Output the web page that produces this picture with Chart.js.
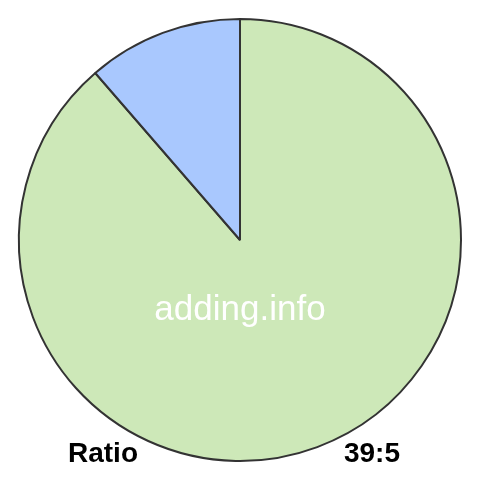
<!DOCTYPE html>
<html><head><meta charset="utf-8">
<script src="https://cdn.jsdelivr.net/npm/chart.js@4"></script>
<style>html,body{margin:0;padding:0;background:#fff;}canvas{display:block;}</style>
</head><body>
<canvas id="c" width="480" height="480"></canvas>
<script>
const labels = ['39', '5'];
const values = [39, 5];
const colors = ['#cde8b8', '#a9c8fe'];
const watermark = 'adding.info';
const leftLabel = 'Ratio';
const rightLabel = '39:5';

const textPlugin = {
  id: 'texts',
  afterDraw(chart) {
    const ctx = chart.ctx;
    ctx.save();
    ctx.fillStyle = '#ffffff';
    ctx.font = '35px "Liberation Sans", Arial, sans-serif';
    ctx.textAlign = 'center';
    ctx.textBaseline = 'middle';
    ctx.fillText(watermark, 240, 310);
    ctx.fillStyle = '#000000';
    ctx.font = 'bold 28px "Liberation Sans", Arial, sans-serif';
    ctx.textBaseline = 'alphabetic';
    ctx.textAlign = 'left';
    ctx.fillText(leftLabel, 68, 462);
    ctx.textAlign = 'right';
    ctx.fillText(rightLabel, 400, 462);
    ctx.restore();
  }
};

new Chart(document.getElementById('c'), {
  type: 'pie',
  data: {
    labels: labels,
    datasets: [{
      data: values,
      backgroundColor: colors,
      borderColor: '#333333',
      borderWidth: 2
    }]
  },
  options: {
    responsive: false,
    animation: false,
    layout: { padding: 18 },
    plugins: { legend: { display: false }, tooltip: { enabled: false } }
  },
  plugins: [textPlugin]
});
</script>
</body></html>
